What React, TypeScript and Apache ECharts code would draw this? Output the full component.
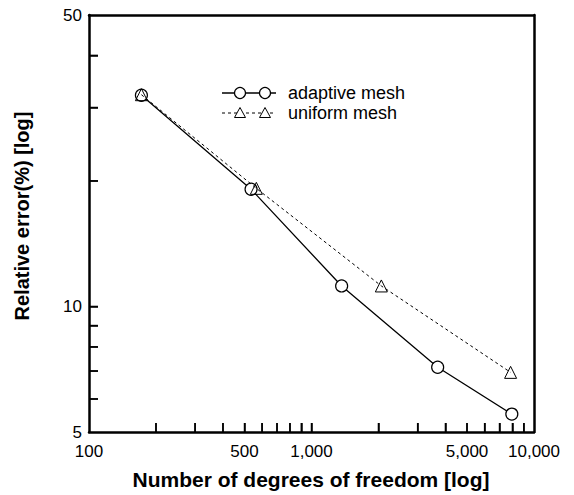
import React, { useEffect, useRef } from "react";
import * as echarts from "echarts";

// Data
const adaptiveDof = [172, 535, 1366, 3690, 7950];
const adaptiveErr = [32.1, 19.1, 11.2, 7.15, 5.52];
const uniformDof = [172, 565, 2060, 7850];
const uniformErr = [32.2, 19.2, 11.2, 6.95];

const xRange = [100, 10000];
const yRange = [5, 50];
const xTickValues = [200, 300, 400, 500, 600, 700, 800, 900, 1000, 2000, 3000, 4000, 5000, 6000, 7000, 8000, 9000];
const xLabelValues = [100, 500, 1000, 5000, 10000];
const yTickValues = [6, 7, 8, 9, 10, 20, 30, 40];
const yLabelValues = [5, 10, 50];

const seriesNames = ["adaptive mesh", "uniform mesh"];
const xTitle = "Number of degrees of freedom [log]";
const yTitle = "Relative error(%) [log]";

const FONT = "'Liberation Sans', Arial, sans-serif";

export default function App() {
  const ref = useRef<HTMLDivElement>(null);

  useEffect(() => {
    if (!ref.current) return;
    const chart = echarts.init(ref.current, undefined, { renderer: "svg" });
    // log10 scale: values are mapped into decades, then placed by the value axes
    const lg = (v: number) => Math.log10(v);
    const fmt = (v: number) => Math.round(Math.pow(10, v)).toLocaleString("en-US");

    const legendLineX0 = 222;
    const legendLineX1 = 276;
    const legendMarks = [240, 265];
    const ly1 = 93;
    const ly2 = 113;
    const TICK_LEN = 9;

    const tri = (cx: number, cy: number) => ({
      type: "polygon",
      shape: { points: [[cx - 5.5, cy + 4.5], [cx + 5.5, cy + 4.5], [cx, cy - 5.5]] },
      style: { fill: "#fff", stroke: "#000", lineWidth: 1 },
      z: 10,
    });

    const frameLine = { show: true, onZero: false, lineStyle: { color: "#000", width: 2.5 } };
    const labelStyle = { color: "#000", fontSize: 17, fontFamily: FONT, showMinLabel: true, showMaxLabel: true };

    const frameAxis = (min: number, max: number, position: string) => ({
      type: "value",
      min,
      max,
      position,
      axisLine: frameLine,
      axisTick: { show: false },
      axisLabel: { show: false },
      splitLine: { show: false },
    });

    const baseGraphic: any[] = [
      {
        type: "text",
        x: 311,
        y: 479,
        style: {
          text: xTitle,
          fontSize: 21,
          fontWeight: "bold",
          fontFamily: FONT,
          fill: "#000",
          align: "center",
          verticalAlign: "middle",
        },
      },
      {
        type: "text",
        x: 22,
        y: 216,
        rotation: Math.PI / 2,
        style: {
          text: yTitle,
          fontSize: 20,
          fontWeight: "bold",
          fontFamily: FONT,
          fill: "#000",
          align: "center",
          verticalAlign: "middle",
        },
      },
      {
        type: "line",
        shape: { x1: legendLineX0, y1: ly1, x2: legendLineX1, y2: ly1 },
        style: { stroke: "#000", lineWidth: 1.3 },
        z: 5,
      },
      ...legendMarks.map((cx) => ({
        type: "circle",
        shape: { cx, cy: ly1, r: 5.5 },
        style: { fill: "#fff", stroke: "#000", lineWidth: 1.2 },
        z: 10,
      })),
      {
        type: "text",
        x: 288,
        y: ly1,
        style: {
          text: seriesNames[0],
          fontSize: 18,
          fontFamily: FONT,
          fill: "#000",
          align: "left",
          verticalAlign: "middle",
        },
      },
      {
        type: "line",
        shape: { x1: legendLineX0, y1: ly2, x2: legendLineX1, y2: ly2 },
        style: { stroke: "#000", lineWidth: 1, lineDash: [3, 3] },
        z: 5,
      },
      ...legendMarks.map((cx) => tri(cx, ly2)),
      {
        type: "text",
        x: 288,
        y: ly2,
        style: {
          text: seriesNames[1],
          fontSize: 18,
          fontFamily: FONT,
          fill: "#000",
          align: "left",
          verticalAlign: "middle",
        },
      },
    ];

    const option: any = {
      animation: false,
      textStyle: { fontFamily: FONT },
      grid: { left: 89, right: 40, top: 15, bottom: 63 },
      xAxis: [
        {
          type: "value",
          min: lg(xRange[0]),
          max: lg(xRange[1]),
          position: "bottom",
          axisLine: frameLine,
          splitLine: { show: false },
          axisTick: {
            show: true,
            inside: true,
            length: TICK_LEN,
            customValues: xTickValues.map(lg),
            lineStyle: { color: "#000", width: 1.5 },
          },
          axisLabel: {
            ...labelStyle,
            customValues: xLabelValues.map(lg),
            formatter: (v: number) => fmt(v),
            margin: 11,
          },
        },
        frameAxis(lg(xRange[0]), lg(xRange[1]), "top"),
      ],
      yAxis: [
        {
          type: "value",
          min: lg(yRange[0]),
          max: lg(yRange[1]),
          position: "left",
          axisLine: frameLine,
          splitLine: { show: false },
          axisTick: {
            show: true,
            inside: true,
            length: TICK_LEN,
            customValues: yTickValues.map(lg),
            lineStyle: { color: "#000", width: 1.5 },
          },
          axisLabel: {
            ...labelStyle,
            customValues: yLabelValues.map(lg),
            formatter: (v: number) => fmt(v),
            margin: 7,
          },
        },
        frameAxis(lg(yRange[0]), lg(yRange[1]), "right"),
      ],
      series: [
        {
          name: seriesNames[0],
          type: "line",
          xAxisIndex: 0,
          yAxisIndex: 0,
          data: adaptiveDof.map((x, i) => [lg(x), lg(adaptiveErr[i])]),
          symbol: "circle",
          symbolSize: 12,
          showAllSymbol: true,
          lineStyle: { color: "#000", width: 1.3, type: "solid" },
          itemStyle: { color: "#fff", borderColor: "#000", borderWidth: 1.2 },
          z: 3,
        },
        {
          name: seriesNames[1],
          type: "line",
          xAxisIndex: 0,
          yAxisIndex: 0,
          data: uniformDof.map((x, i) => [lg(x), lg(uniformErr[i])]),
          symbol: "triangle",
          symbolSize: 12,
          showAllSymbol: true,
          lineStyle: { color: "#000", width: 1, type: [3, 3] },
          itemStyle: { color: "rgba(255,255,255,0)", borderColor: "#000", borderWidth: 1 },
          z: 4,
        },
      ],
      graphic: baseGraphic,
    };

    chart.setOption(option);

    // Inner tick marks placed through the chart's own axis scales (backup for the axis ticks)
    try {
      const toX = (v: number) => Number(chart.convertToPixel({ xAxisIndex: 0 } as any, v));
      const toY = (v: number) => Number(chart.convertToPixel({ yAxisIndex: 0 } as any, v));
      const bottomY = toY(lg(yRange[0]));
      const leftX = toX(lg(xRange[0]));
      const tickLines: any[] = [];
      if (isFinite(bottomY)) {
        xTickValues.forEach((v) => {
          const px = toX(lg(v));
          if (isFinite(px)) {
            tickLines.push({
              type: "line",
              shape: { x1: px, y1: bottomY, x2: px, y2: bottomY - TICK_LEN },
              style: { stroke: "#000", lineWidth: 1.5 },
              z: 6,
            });
          }
        });
      }
      if (isFinite(leftX)) {
        yTickValues.forEach((v) => {
          const py = toY(lg(v));
          if (isFinite(py)) {
            tickLines.push({
              type: "line",
              shape: { x1: leftX, y1: py, x2: leftX + TICK_LEN, y2: py },
              style: { stroke: "#000", lineWidth: 1.5 },
              z: 6,
            });
          }
        });
      }
      if (tickLines.length) {
        chart.setOption({ graphic: baseGraphic.concat(tickLines) });
      }
    } catch (e) {
      // keep chart as is
    }

    return () => chart.dispose();
  }, []);

  return (
    <div
      ref={ref}
      style={{ position: "fixed", left: 0, top: 0, width: 574, height: 495, background: "#fff" }}
    />
  );
}
